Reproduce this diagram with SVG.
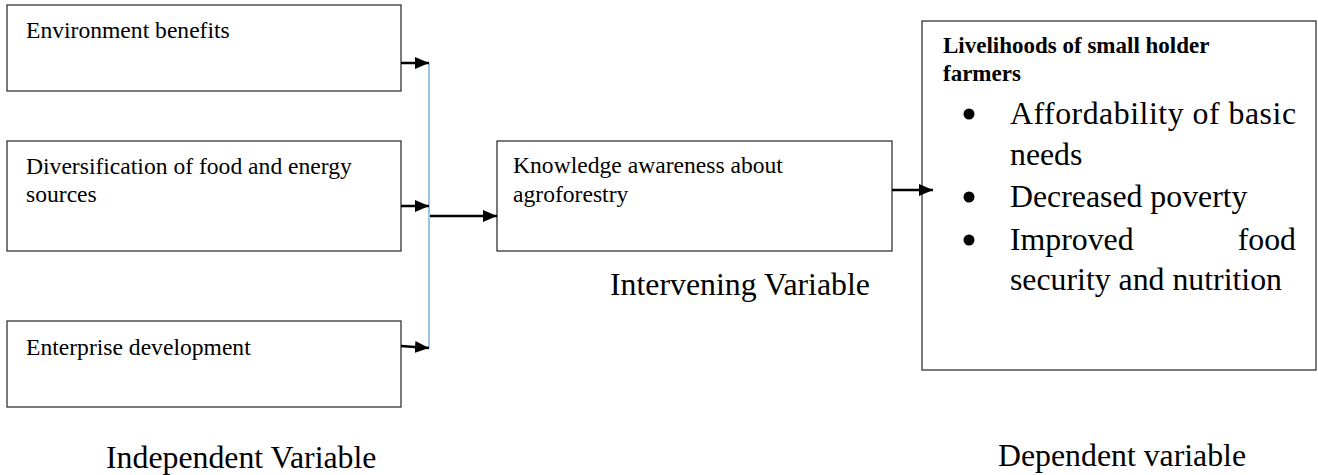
<svg xmlns="http://www.w3.org/2000/svg" width="1318" height="475" viewBox="0 0 1318 475">
<defs>
<style>
.box{fill:#fff;stroke:#333;stroke-width:1.3}
.t{font-family:"Liberation Serif","Times New Roman",serif;font-size:23.6px;fill:#000}
.big{font-family:"Liberation Serif","Times New Roman",serif;font-size:31.8px;fill:#000}
.hd{font-family:"Liberation Serif","Times New Roman",serif;font-size:23px;font-weight:bold;fill:#000}
.ar{stroke:#000;stroke-width:2.5;fill:none}
</style>
<marker id="ah" markerWidth="14" markerHeight="12" refX="14" refY="6" orient="auto" markerUnits="userSpaceOnUse" viewBox="0 0 14 12">
<path d="M0,0 L14,6 L0,12 z" fill="#000"/>
</marker>
</defs>
<rect width="1318" height="475" fill="#fff"/>
<g id="env">
<rect class="box" x="7" y="5" width="394" height="86"/>
<text class="t" x="26" y="38">Environment benefits</text>
</g>
<g id="div">
<rect class="box" x="7" y="141" width="394" height="110"/>
<text class="t" x="26" y="174">Diversification of food and energy</text>
<text class="t" x="26" y="202">sources</text>
</g>
<g id="ent">
<rect class="box" x="7" y="321" width="394" height="86"/>
<text class="t" x="26" y="355">Enterprise development</text>
</g>
<g id="know">
<rect class="box" x="497" y="141" width="395" height="110"/>
<text class="t" x="513" y="173">Knowledge awareness about</text>
<text class="t" x="513" y="202">agroforestry</text>
</g>
<g id="live">
<rect class="box" x="922" y="21" width="394" height="349"/>
<text class="hd" x="943" y="53">Livelihoods of small holder</text>
<text class="hd" x="943" y="81">farmers</text>
<circle cx="969" cy="114" r="5.5" fill="#000"/>
<text class="big" x="1010" y="124" textLength="286" lengthAdjust="spacing">Affordability of basic</text>
<text class="big" x="1010" y="165">needs</text>
<circle cx="969" cy="197" r="5.5" fill="#000"/>
<text class="big" x="1010" y="207">Decreased poverty</text>
<circle cx="969" cy="240" r="5.5" fill="#000"/>
<text class="big" x="1010" y="250">Improved</text>
<text class="big" x="1296" y="250" text-anchor="end">food</text>
<text class="big" x="1010" y="290">security and nutrition</text>
</g>
<g id="labels">
<text class="big" x="106" y="468">Independent Variable</text>
<text class="big" x="610" y="295">Intervening Variable</text>
<text class="big" x="998" y="466">Dependent variable</text>
</g>
<g id="connectors">
<line x1="429" y1="63" x2="429" y2="348" stroke="#7fb0e0" stroke-width="1.5"/>
<line class="ar" x1="401" y1="63" x2="429" y2="63" marker-end="url(#ah)"/>
<line class="ar" x1="401" y1="206" x2="429" y2="206" marker-end="url(#ah)"/>
<line class="ar" x1="401" y1="346" x2="429" y2="348" marker-end="url(#ah)"/>
<line class="ar" x1="430" y1="216" x2="497" y2="216" marker-end="url(#ah)"/>
<line class="ar" x1="892" y1="190" x2="933" y2="190" marker-end="url(#ah)"/>
</g>
</svg>
